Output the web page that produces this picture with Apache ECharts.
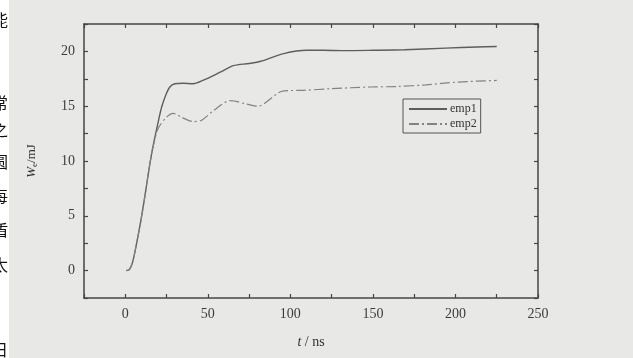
<!DOCTYPE html>
<html>
<head>
<meta charset="utf-8">
<script src="https://cdn.jsdelivr.net/npm/echarts@6/dist/echarts.min.js"></script>
<style>
  html, body { margin: 0; padding: 0; background: #e8e8e6; }
  #chart { width: 633px; height: 358px; }
</style>
</head>
<body>
<div id="chart"></div>
<script>
// 曲线数据
const emp1T = [0.5, 2.5, 4.5, 7, 9.5, 12, 14, 16, 18, 20, 22, 24.5, 27, 30, 35, 41, 47, 57.5, 65.5, 75, 82, 96, 110, 120, 132, 150, 169, 194, 213, 225];
const emp1W = [0, 0.1, 0.8, 2.6, 4.6, 6.9, 8.9, 10.7, 12.2, 13.6, 14.9, 16.0, 16.75, 17.05, 17.1, 17.05, 17.35, 18.1, 18.7, 18.9, 19.1, 19.8, 20.1, 20.1, 20.07, 20.1, 20.15, 20.3, 20.4, 20.45];
const emp2T = [0.5, 2.5, 4.5, 7, 9.5, 12, 14, 16, 18, 20, 25, 29, 34, 41, 46, 53.5, 63.5, 73.5, 80, 96, 108, 125, 148, 165, 182, 201, 225];
const emp2W = [0, 0.1, 0.8, 2.6, 4.6, 6.9, 8.9, 10.7, 12.0, 13.0, 14.0, 14.35, 14.0, 13.6, 13.7, 14.6, 15.5, 15.2, 15.0, 16.4, 16.45, 16.6, 16.75, 16.8, 16.95, 17.2, 17.35];
const seriesNames = ['emp1', 'emp2'];
// 左侧被裁切的正文字
const sideChars = ['能', '常', '之', '圆', '每', '盾', '太', '日'];
const sideCharY = [20, 103, 130, 162, 196, 230, 265, 350];

const serif = '"Liberation Serif", "DejaVu Serif", serif';
const axisColor = '#454545';

const zip = (xs, ys) => xs.map((x, i) => [x, ys[i]]);

const chart = echarts.init(document.getElementById('chart'));

const tick = { show: true, inside: true, length: 4, lineStyle: { color: axisColor, width: 1.2 } };
const lineSty = { show: true, onZero: false, lineStyle: { color: axisColor, width: 1.5 } };

chart.setOption({
  backgroundColor: '#e8e8e6',
  animation: false,
  grid: { left: 84, right: 95, top: 24, bottom: 60 },
  legend: {
    data: seriesNames,
    orient: 'vertical',
    left: 403,
    top: 99,
    itemWidth: 38,
    itemHeight: 8,
    itemGap: 3,
    padding: [4, 4, 3, 5],
    borderColor: '#555',
    borderWidth: 1,
    itemStyle: { opacity: 0 },
    textStyle: { fontFamily: serif, fontSize: 12, color: '#333', padding: [0, 0, 0, -2] }
  },
  xAxis: [
    {
      type: 'value', min: -25, max: 250, interval: 25,
      position: 'bottom',
      axisLine: lineSty, axisTick: tick, splitLine: { show: false },
      axisLabel: {
        fontFamily: serif, fontSize: 14, color: '#3c3c3c', margin: 9,
        formatter: v => (v % 50 === 0 && v >= 0 ? String(v) : '')
      },
      name: '{i|t} / ns', nameLocation: 'middle', nameGap: 37, nameMoveOverlap: false,
      nameTextStyle: {
        fontFamily: serif, fontSize: 14, color: '#333',
        rich: { i: { fontFamily: serif, fontStyle: 'italic', fontSize: 14, color: '#333' } }
      }
    },
    {
      type: 'value', min: -25, max: 250, interval: 25,
      position: 'top',
      axisLine: lineSty, axisTick: tick, axisLabel: { show: false }, splitLine: { show: false }
    }
  ],
  yAxis: [
    {
      type: 'value', min: -2.5, max: 22.5, interval: 2.5,
      position: 'left',
      axisLine: lineSty, axisTick: tick, splitLine: { show: false },
      axisLabel: {
        fontFamily: serif, fontSize: 14, color: '#3c3c3c', margin: 9,
        formatter: v => (v % 5 === 0 && v >= 0 ? String(v) : '')
      },
      name: '{i|W}{s|e}/mJ', nameLocation: 'middle', nameGap: 45, nameRotate: 90, nameMoveOverlap: false,
      nameTextStyle: {
        fontFamily: serif, fontSize: 13, color: '#333',
        rich: {
          i: { fontFamily: serif, fontStyle: 'italic', fontSize: 13, color: '#333' },
          s: { fontFamily: serif, fontSize: 9, color: '#333', verticalAlign: 'bottom', padding: [6, 0, 0, 0] }
        }
      }
    },
    {
      type: 'value', min: -2.5, max: 22.5, interval: 2.5,
      position: 'right',
      axisLine: lineSty, axisTick: tick, axisLabel: { show: false }, splitLine: { show: false }
    }
  ],
  series: [
    {
      name: seriesNames[0], type: 'line', data: zip(emp1T, emp1W),
      smooth: 0.3, symbol: 'none',
      lineStyle: { color: '#5e5e5e', width: 1.4 },
      itemStyle: { color: '#5e5e5e' }
    },
    {
      name: seriesNames[1], type: 'line', data: zip(emp2T, emp2W),
      smooth: 0.3, symbol: 'none',
      lineStyle: { color: '#838383', width: 1.2, type: [10, 3, 2, 3] },
      itemStyle: { color: '#838383' }
    }
  ],
  graphic: [
    {
      type: 'rect', left: 0, top: 0, z: 10,
      shape: { width: 9, height: 358 },
      style: { fill: '#ffffff' }
    }
  ].concat(sideChars.map((c, i) => ({
    type: 'text', x: -8, y: sideCharY[i] - 8, z: 11,
    style: { text: c, font: '16px "Noto Sans CJK SC"', fill: '#111' }
  })))
});
</script>
</body>
</html>
